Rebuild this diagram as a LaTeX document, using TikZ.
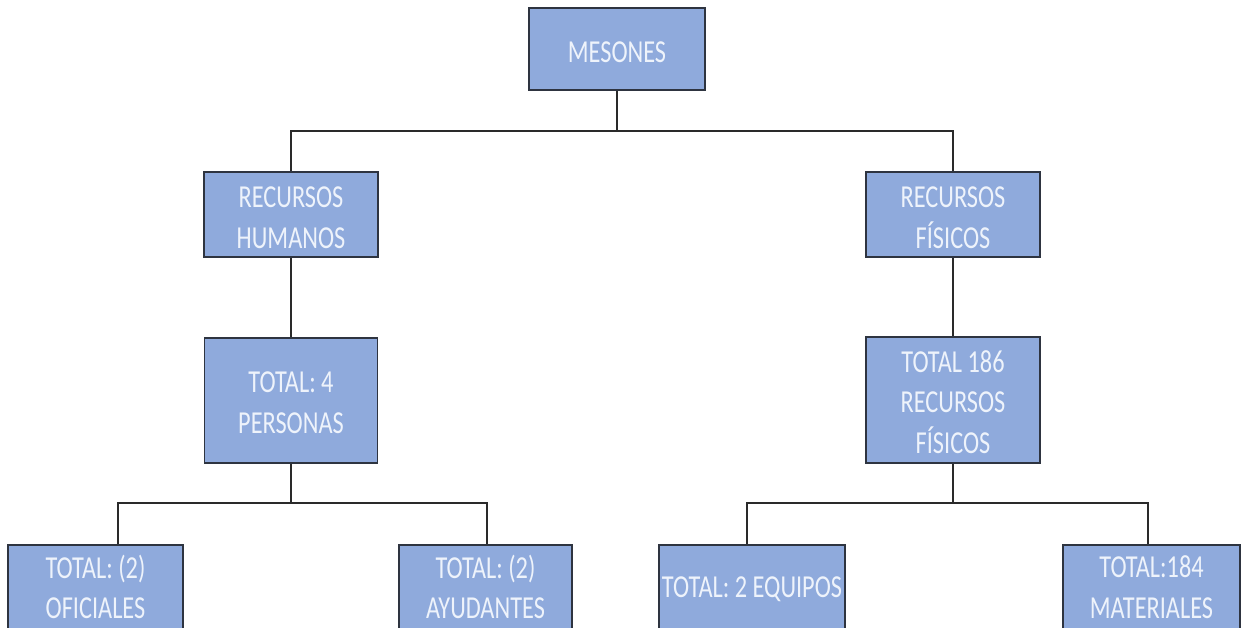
\documentclass[tikz,border=0pt]{standalone}
\usepackage{fontspec}
\setmainfont{Carlito}[FakeStretch=0.76]
\definecolor{boxfill}{HTML}{8FAADC}
\definecolor{boxline}{HTML}{2E3440}
\definecolor{boxtext}{HTML}{EEF3FB}
\definecolor{wire}{HTML}{2A2A2A}
\begin{document}
\begin{tikzpicture}[x=1pt,y=-1pt,
  unit/.style={draw=boxline, line width=1.8pt, fill=boxfill, inner sep=0pt},
  caption/.style={text=boxtext, align=center, inner sep=0pt,
    font=\fontsize{32}{40.5}\selectfont},
  link/.style={draw=wire, line width=1.8pt}]
\useasboundingbox (0,0) rectangle (1245,628);
\clip (0,0) rectangle (1245,628);

% root
\node[unit, minimum width=176pt, minimum height=82pt] (mes) at (617,49) {};
\node[caption] (mesT) at ([yshift=-3pt]mes.center) {MESONES};

% second level
\node[unit, minimum width=174pt, minimum height=85pt] (rh) at (291,214.5) {};
\node[caption] (rhT) at ([yshift=-3pt]rh.center) {RECURSOS\\HUMANOS};
\node[unit, minimum width=174pt, minimum height=85pt] (rf) at (953,214.5) {};
\node[caption] (rfT) at ([yshift=-3pt]rf.center) {RECURSOS\\FÍSICOS};

% totals
\node[unit, minimum width=173pt, minimum height=125pt] (tp) at (291,400.5) {};
\node[caption] (tpT) at ([yshift=-2pt]tp.center) {TOTAL: 4\\PERSONAS};
\node[unit, minimum width=174pt, minimum height=126pt] (tr) at (953,400) {};
\node[caption] (trT) at ([yshift=-2pt]tr.center) {TOTAL 186\\RECURSOS\\FÍSICOS};

% leaves (their lower part runs past the page edge)
\node[unit, minimum width=175pt, minimum height=86pt] (of) at (95.5,588) {};
\node[caption] (ofT) at ([yshift=1pt]of.center) {TOTAL: (2)\\OFICIALES};
\node[unit, minimum width=173pt, minimum height=86pt] (ay) at (485.5,588) {};
\node[caption] (ayT) at ([yshift=1pt]ay.center) {TOTAL: (2)\\AYUDANTES};
\node[unit, minimum width=186pt, minimum height=86pt] (eq) at (752,588) {};
\node[caption] (eqT) at ([yshift=-1pt]eq.center) {TOTAL: 2 EQUIPOS};
\node[unit, minimum width=177pt, minimum height=86pt] (ma) at (1151.5,588) {};
\node[caption] (maT) at ([yshift=1pt]ma.center) {TOTAL:184\\MATERIALES};

% junctions
\coordinate (j1) at (617,131);
\coordinate (j2) at (291,503);
\coordinate (j3) at (953,503);

% connectors
\draw[link] (mes.south) -- (j1);
\draw[link] (rh.north) |- (j1) -| (rf.north);
\draw[link] (rh.south) -- (tp.north);
\draw[link] (rf.south) -- (tr.north);
\draw[link] (tp.south) -- (j2);
\draw[link] ([xshift=22.5pt]of.north) |- (j2) -| ([xshift=1.5pt]ay.north);
\draw[link] (tr.south) -- (j3);
\draw[link] ([xshift=-5pt]eq.north) |- (j3) -| ([xshift=-3.5pt]ma.north);
\end{tikzpicture}
\end{document}
